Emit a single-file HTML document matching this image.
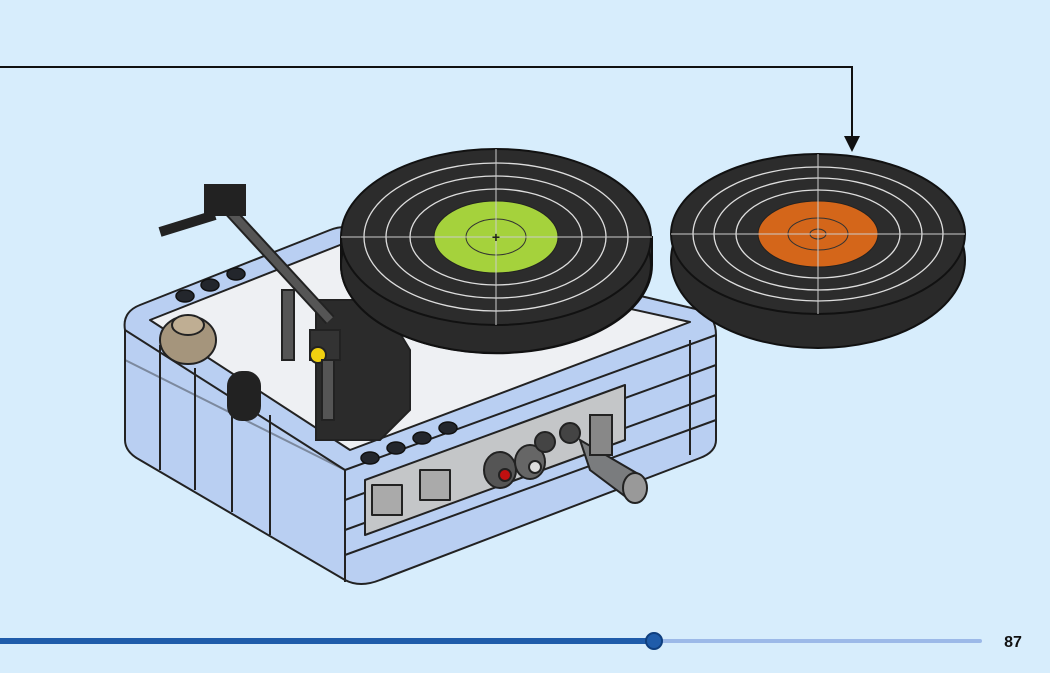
<!DOCTYPE html>
<html><head><meta charset="utf-8"><style>
html,body{margin:0;padding:0;background:#d7edfc;}
svg{display:block}
</style></head><body>
<svg width="1050" height="673" viewBox="0 0 1050 673" xmlns="http://www.w3.org/2000/svg">
<rect width="1050" height="673" fill="#d7edfc"/>
<!-- arrow -->
<polyline points="0,67 852,67 852,140" fill="none" stroke="#111" stroke-width="2"/>
<polygon points="844,136 860,136 852,152" fill="#111"/>

<!-- base box -->
<g stroke="#222" stroke-width="2" stroke-linejoin="round">
<path d="M125,330 Q122,312 140,305 L330,230 Q345,224 360,230 L700,310 Q716,316 716,335 L716,440 Q716,452 700,458 L380,580 Q360,588 345,580 L140,460 Q125,452 125,440 Z" fill="#b9cff2"/>
<path d="M150,320 L340,245 L690,322 L350,450 Z" fill="#eef0f3"/>
<path d="M125,330 L345,470 L716,335" fill="none"/>
<line x1="345" y1="470" x2="345" y2="582"/>
<line x1="160" y1="345" x2="160" y2="470"/><line x1="195" y1="368" x2="195" y2="490"/><line x1="232" y1="392" x2="232" y2="512"/><line x1="270" y1="415" x2="270" y2="535"/>
<line x1="345" y1="500" x2="716" y2="365"/><line x1="345" y1="530" x2="716" y2="395"/><line x1="345" y1="555" x2="716" y2="420"/>
<line x1="345" y1="470" x2="125" y2="360" opacity=".4"/>
<line x1="690" y1="340" x2="690" y2="455"/>
<path d="M365,480 L625,385 L625,440 L365,535 Z" fill="#c4c6c8"/>
<rect x="372" y="485" width="30" height="30" fill="#aaa"/>
<rect x="420" y="470" width="30" height="30" fill="#aaa"/>
</g>
<!-- plugs -->
<g stroke="#222" stroke-width="2">
<ellipse cx="500" cy="470" rx="16" ry="18" fill="#555"/><circle cx="505" cy="475" r="6" fill="#c01010"/>
<ellipse cx="530" cy="462" rx="15" ry="17" fill="#666"/><circle cx="535" cy="467" r="6" fill="#ddd"/>
<circle cx="545" cy="442" r="10" fill="#444"/><circle cx="570" cy="433" r="10" fill="#444"/>
<path d="M580,440 L640,475 L630,500 L590,470 Z" fill="#7a7c7e"/>
<ellipse cx="635" cy="488" rx="12" ry="15" fill="#999"/>
<rect x="590" y="415" width="22" height="40" fill="#888"/>
</g>
<!-- interior parts -->
<g stroke="#222" stroke-width="2">
<ellipse cx="188" cy="340" rx="28" ry="24" fill="#a5957c"/><ellipse cx="188" cy="325" rx="16" ry="10" fill="#bfae93"/>
<rect x="228" y="372" width="32" height="48" rx="14" fill="#222"/>
<path d="M316,300 L380,300 L410,350 L410,410 L380,440 L316,440 L316,300 Z" fill="#2b2b2b"/>
<rect x="310" y="330" width="30" height="30" fill="#333"/><circle cx="318" cy="355" r="8" fill="#f0d010"/>
<line x1="215" y1="195" x2="330" y2="320" stroke-width="12"/>
<line x1="215" y1="195" x2="330" y2="320" stroke="#555" stroke-width="8"/>
<rect x="205" y="185" width="40" height="30" fill="#222"/>
<path d="M160,232 L215,215" stroke-width="10"/>
<rect x="282" y="290" width="12" height="70" fill="#555"/>
<rect x="322" y="360" width="12" height="60" fill="#555"/>
</g>
<!-- studs -->
<g fill="#23262c" stroke="#111" stroke-width="1.5">
<ellipse cx="185" cy="296" rx="9" ry="6"/><ellipse cx="210" cy="285" rx="9" ry="6"/><ellipse cx="236" cy="274" rx="9" ry="6"/>
<ellipse cx="370" cy="458" rx="9" ry="6"/><ellipse cx="396" cy="448" rx="9" ry="6"/><ellipse cx="422" cy="438" rx="9" ry="6"/><ellipse cx="448" cy="428" rx="9" ry="6"/>
</g>

<!-- left disc -->
<g stroke="#111" stroke-width="2">
<path d="M341,237 L341,265 A155,88 0 0 0 652,265 L652,237 Z" fill="#2a2a2a"/>
<ellipse cx="496" cy="265" rx="155" ry="88" fill="#2a2a2a"/>
<ellipse cx="496" cy="237" rx="155" ry="88" fill="#2c2c2c"/>
</g>
<g fill="none" stroke="#ddd" stroke-width="1.3">
<ellipse cx="496" cy="237" rx="132" ry="74"/><ellipse cx="496" cy="237" rx="110" ry="61"/><ellipse cx="496" cy="237" rx="86" ry="48"/>
</g>
<ellipse cx="496" cy="237" rx="62" ry="36" fill="#a5d23c" stroke="#222"/>
<ellipse cx="496" cy="237" rx="30" ry="18" fill="none" stroke="#333"/>
<line x1="341" y1="237" x2="652" y2="237" stroke="#ccc"/><line x1="496" y1="149" x2="496" y2="325" stroke="#ccc"/>
<text x="496" y="242" font-family="Liberation Sans" font-size="14" font-weight="bold" text-anchor="middle" fill="#222">+</text>

<!-- right disc -->
<g stroke="#111" stroke-width="2">
<ellipse cx="818" cy="260" rx="147" ry="88" fill="#2a2a2a"/>
<ellipse cx="818" cy="234" rx="147" ry="80" fill="#2c2c2c"/>
</g>
<g fill="none" stroke="#ddd" stroke-width="1.3">
<ellipse cx="818" cy="234" rx="125" ry="67"/><ellipse cx="818" cy="234" rx="104" ry="56"/><ellipse cx="818" cy="234" rx="82" ry="44"/>
</g>
<ellipse cx="818" cy="234" rx="60" ry="33" fill="#d4661a" stroke="#222"/>
<ellipse cx="818" cy="234" rx="30" ry="16" fill="none" stroke="#333"/>
<ellipse cx="818" cy="234" rx="8" ry="5" fill="none" stroke="#333"/>
<line x1="671" y1="234" x2="965" y2="234" stroke="#ccc"/><line x1="818" y1="154" x2="818" y2="314" stroke="#ccc"/>

<!-- progress -->
<rect x="0" y="638" width="654" height="6" fill="#1f5caa"/>
<rect x="654" y="639" width="328" height="4" rx="2" fill="#9cb9e8"/>
<circle cx="654" cy="641" r="8" fill="#1f5caa" stroke="#0f3f7f" stroke-width="2"/>
<text x="1013" y="647" font-family="Liberation Sans" font-size="16" font-weight="bold" text-anchor="middle" fill="#111">87</text>
</svg>
</body></html>
